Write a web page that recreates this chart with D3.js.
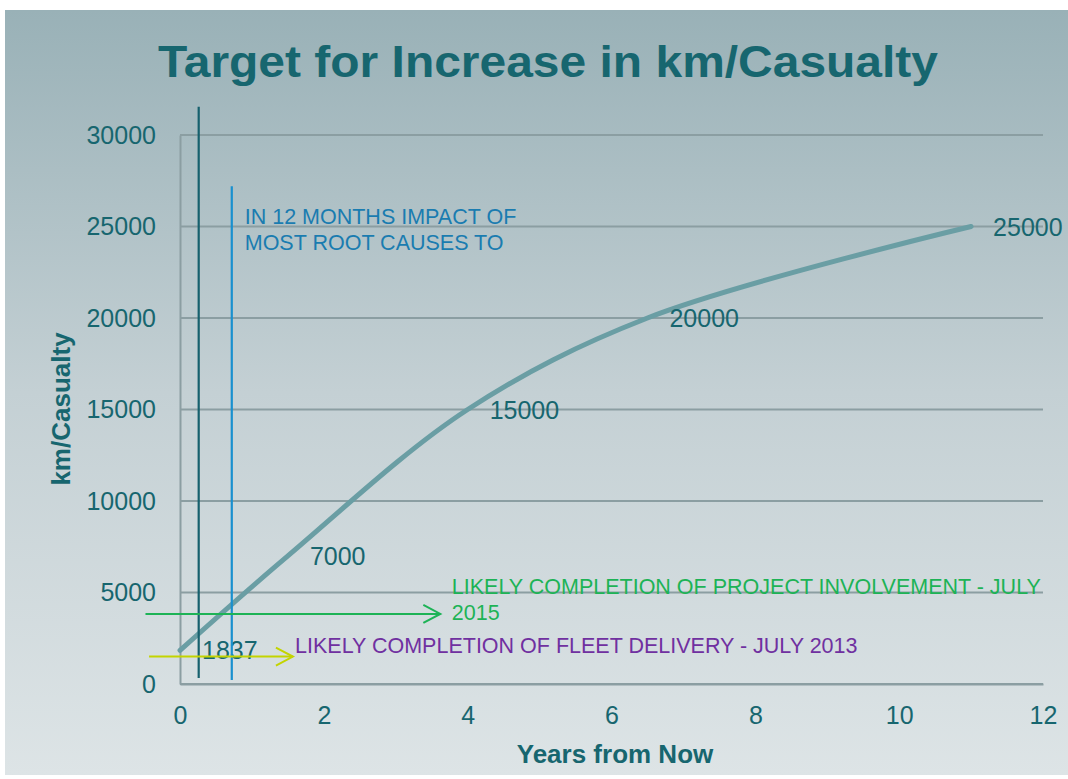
<!DOCTYPE html>
<html>
<head>
<meta charset="utf-8">
<script src="https://cdn.jsdelivr.net/npm/d3@7"></script>
<style>
    html, body { margin: 0; padding: 0; background: #fff; }
    svg { display: block; font-family: "Liberation Sans", Arial, sans-serif; }
</style>
</head>
<body>
<div id="chart"></div>
<script>
    'use strict';

    // Chart values
    var years = [0, 1.5, 4, 6.5, 11],
        kmPerCasualty = [1837, 7000, 15000, 20000, 25000],
        xTicks = [0, 2, 4, 6, 8, 10, 12],
        yTicks = [0, 5000, 10000, 15000, 20000, 25000, 30000],
        markerYears = [0.26, 0.72],
        markerTops = [31550, 27200],
        markerBottoms = [330, 220],
        arrowStarts = [-0.48, -0.43],
        arrowEnds = [3.62, 1.57],
        arrowLevels = [3830, 1500],
        notes = [
            ['IN 12 MONTHS IMPACT OF', 'MOST ROOT CAUSES TO'],
            ['LIKELY COMPLETION OF PROJECT INVOLVEMENT - JULY', '2015'],
            ['LIKELY COMPLETION OF FLEET DELIVERY - JULY 2013']
        ],
        noteYears = [0.9, 3.78, 1.6],
        noteLevels = [25150, 4900, 1700];

    var width = 1068,
        height = 779,
        margin = { top: 135, right: 25, bottom: 95, left: 180 },
        inkTeal = '#17666f',
        gridColour = '#8b9ea2';

    var svg = d3.select('#chart').append('svg')
        .attr('width', width)
        .attr('height', height);

    var defs = svg.append('defs');
    var grad = defs.append('linearGradient')
        .attr('id', 'bg')
        .attr('x1', 0).attr('y1', 0)
        .attr('x2', 0).attr('y2', 1);
    grad.append('stop').attr('offset', '0%').attr('stop-color', '#99b1b7');
    grad.append('stop').attr('offset', '50%').attr('stop-color', '#c4d0d4');
    grad.append('stop').attr('offset', '100%').attr('stop-color', '#dde4e6');

    svg.append('rect')
        .attr('x', 5)
        .attr('y', 10)
        .attr('width', width - 5)
        .attr('height', height - 14)
        .attr('fill', 'url(#bg)');

    var x = d3.scaleLinear()
        .domain([0, 12])
        .range([margin.left, width - margin.right]);

    var y = d3.scaleLinear()
        .domain([0, 30000])
        .range([height - margin.bottom, margin.top]);

    // Title
    svg.append('text')
        .attr('x', 548)
        .attr('y', 77)
        .attr('text-anchor', 'middle')
        .attr('font-size', 44)
        .attr('font-weight', 'bold')
        .attr('fill', inkTeal)
        .attr('textLength', 780)
        .attr('lengthAdjust', 'spacingAndGlyphs')
        .text('Target for Increase in km/Casualty');

    // Gridlines
    svg.append('g')
        .selectAll('line')
        .data(yTicks)
        .enter()
        .append('line')
        .attr('x1', x(0))
        .attr('x2', x(12))
        .attr('y1', function (d) { return y(d); })
        .attr('y2', function (d) { return y(d); })
        .attr('stroke', gridColour)
        .attr('stroke-width', 2);

    // Axes
    var yAxis = svg.append('g')
        .attr('transform', 'translate(' + x(0) + ',0)')
        .call(d3.axisLeft(y).tickValues(yTicks).tickSize(0).tickPadding(24)
            .tickFormat(d3.format('d')));
    yAxis.select('.domain').attr('stroke', gridColour).attr('stroke-width', 2);
    yAxis.selectAll('text')
        .attr('font-size', 25)
        .attr('fill', inkTeal)
        .attr('font-family', '"Liberation Sans", Arial, sans-serif');

    var xAxis = svg.append('g')
        .attr('transform', 'translate(0,' + y(0) + ')')
        .call(d3.axisBottom(x).tickValues(xTicks).tickSize(0).tickPadding(22));
    xAxis.select('.domain').attr('stroke', gridColour).attr('stroke-width', 2);
    xAxis.selectAll('text')
        .attr('font-size', 25)
        .attr('fill', inkTeal)
        .attr('font-family', '"Liberation Sans", Arial, sans-serif');

    svg.append('text')
        .attr('x', 615)
        .attr('y', 763)
        .attr('text-anchor', 'middle')
        .attr('font-size', 26)
        .attr('font-weight', 'bold')
        .attr('fill', inkTeal)
        .text('Years from Now');

    svg.append('text')
        .attr('transform', 'translate(70,409) rotate(-90)')
        .attr('text-anchor', 'middle')
        .attr('font-size', 26)
        .attr('font-weight', 'bold')
        .attr('fill', inkTeal)
        .text('km/Casualty');

    // Target curve
    var points = years.map(function (d, i) { return [d, kmPerCasualty[i]]; });

    var line = d3.line()
        .x(function (d) { return x(d[0]); })
        .y(function (d) { return y(d[1]); })
        .curve(d3.curveCatmullRom);

    svg.append('path')
        .datum(points)
        .attr('d', line)
        .attr('fill', 'none')
        .attr('stroke', '#6a9ea4')
        .attr('stroke-width', 5)
        .attr('stroke-linecap', 'round');

    svg.append('g')
        .selectAll('text')
        .data(points)
        .enter()
        .append('text')
        .attr('x', function (d) { return x(d[0]) + 22; })
        .attr('y', function (d) { return y(d[1]); })
        .attr('dy', '0.36em')
        .attr('font-size', 25)
        .attr('fill', inkTeal)
        .text(function (d) { return d[1]; });

    // Vertical markers
    var markerColours = ['#16606d', '#1990cf'];
    svg.append('g')
        .selectAll('line')
        .data(markerYears)
        .enter()
        .append('line')
        .attr('x1', function (d) { return x(d); })
        .attr('x2', function (d) { return x(d); })
        .attr('y1', function (d, i) { return y(markerTops[i]); })
        .attr('y2', function (d, i) { return y(markerBottoms[i]); })
        .attr('stroke', function (d, i) { return markerColours[i]; })
        .attr('stroke-width', 2.2);

    // Arrows
    var arrowColours = ['#1db356', '#c3d400'];
    var arrows = svg.append('g')
        .selectAll('g')
        .data(arrowEnds)
        .enter()
        .append('g')
        .attr('stroke', function (d, i) { return arrowColours[i]; })
        .attr('stroke-width', 2)
        .attr('fill', 'none');

    arrows.append('line')
        .attr('x1', function (d, i) { return x(arrowStarts[i]); })
        .attr('x2', function (d) { return x(d); })
        .attr('y1', function (d, i) { return y(arrowLevels[i]); })
        .attr('y2', function (d, i) { return y(arrowLevels[i]); });

    arrows.append('path')
        .attr('d', function (d, i) {
            var ex = x(d), ey = y(arrowLevels[i]);
            return 'M' + (ex - 17) + ',' + (ey - 9) + 'L' + ex + ',' + ey +
                'L' + (ex - 17) + ',' + (ey + 9);
        });

    // Notes
    var noteColours = ['#1a7cb0', '#1db356', '#7030a0'];
    var noteGroups = svg.append('g')
        .selectAll('text')
        .data(notes)
        .enter()
        .append('text')
        .attr('x', function (d, i) { return x(noteYears[i]); })
        .attr('y', function (d, i) { return y(noteLevels[i]); })
        .attr('font-size', 21.5)
        .attr('fill', function (d, i) { return noteColours[i]; });

    noteGroups.selectAll('tspan')
        .data(function (d) { return d; })
        .enter()
        .append('tspan')
        .attr('x', function () { return d3.select(this.parentNode).attr('x'); })
        .attr('dy', function (d, i) { return i === 0 ? 0 : 26; })
        .text(function (d) { return d; });
</script>
</body>
</html>
